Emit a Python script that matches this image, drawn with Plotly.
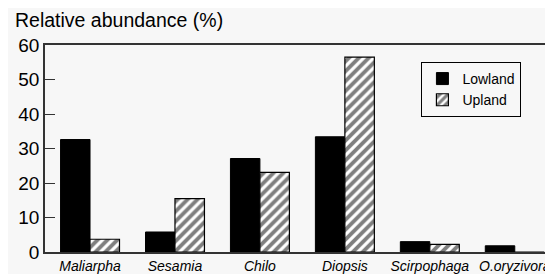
import plotly.graph_objects as go

categories = ["Maliarpha", "Sesamia", "Chilo", "Diopsis", "Scirpophaga", "O.oryzivora"]
lowland = [32.6, 5.8, 27.1, 33.4, 3.0, 1.8]
upland = [3.7, 15.5, 23.1, 56.5, 2.2, 0]
y_ticks = [0, 10, 20, 30, 40, 50, 60]

xpos = list(range(len(categories)))
bw = 0.347
bg = "#f7f7f7"

fig = go.Figure()
fig.add_trace(go.Bar(
    x=xpos, y=lowland, name="Lowland", width=bw, offset=-bw,
    marker=dict(color="black", line=dict(color="black", width=1)),
))
fig.add_trace(go.Bar(
    x=xpos, y=upland, name="Upland", width=bw, offset=0,
    marker=dict(color="white", line=dict(color="black", width=1.2),
                pattern=dict(shape="/", fgcolor="black", bgcolor="white", size=7, solidity=0.55)),
))

fig.update_layout(
    width=545, height=266,
    margin=dict(l=37, r=0, t=37, b=22),
    paper_bgcolor=bg, plot_bgcolor=bg,
    barmode="overlay",
    font=dict(family="Liberation Sans, Arial, sans-serif", color="black"),
    showlegend=True,
    legend=dict(x=0.741, y=0.918, xanchor="left", yanchor="top",
                bordercolor="black", borderwidth=1, bgcolor=bg,
                font=dict(size=14), tracegroupgap=0, itemwidth=30),
    xaxis=dict(range=[-0.53, 5.45], tickvals=xpos, ticktext=categories,
               tickfont=dict(size=14, style="italic"), ticks="", automargin=False,
               ticklabeloverflow="allow",
               showline=True, linecolor="#333", linewidth=1.5, mirror=True,
               showgrid=False, zeroline=False, fixedrange=True),
    yaxis=dict(range=[0, 60], tickvals=y_ticks, ticks="inside", ticklen=10,
               tickcolor="#333", tickwidth=1.2, tickfont=dict(size=19), automargin=False,
               showline=True, linecolor="#333", linewidth=1.5,
               showgrid=False, zeroline=False, fixedrange=True),
    annotations=[dict(text="Relative abundance (%)", xref="paper", yref="paper",
                      x=(5 - 37) / 508, y=(252 - 20) / 207.3, xanchor="left",
                      yanchor="middle", showarrow=False, font=dict(size=19.5))],
)

fig.write_html("out.html")
